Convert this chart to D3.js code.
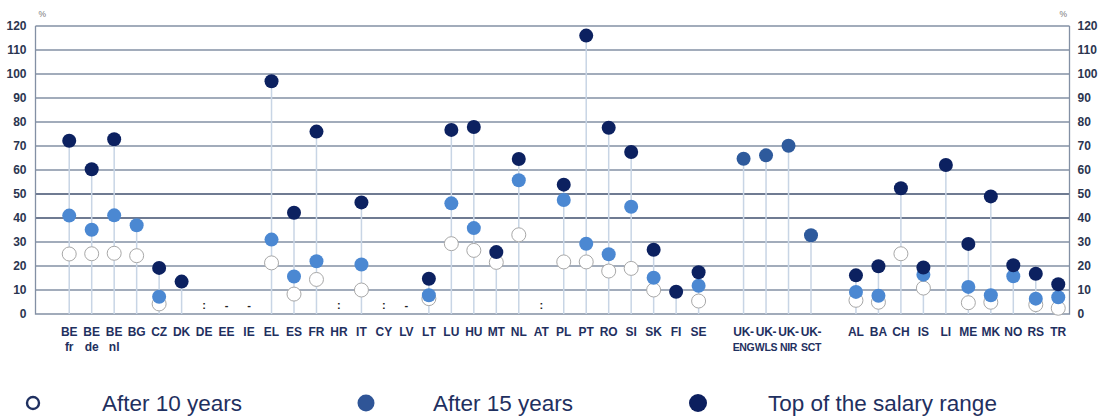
<!DOCTYPE html>
<html>
<head>
<meta charset="utf-8">
<script src="https://cdn.jsdelivr.net/npm/d3@7"></script>
<style>
  html, body { margin: 0; padding: 0; background: #ffffff; }
  svg { display: block; }
</style>
</head>
<body>
<svg id="chart" width="1100" height="416"></svg>
<script>
// ---- Data ----
// "" entries are empty slots between groups
const categories = ["", "BE fr", "BE de", "BE nl", "BG", "CZ", "DK", "DE", "EE", "IE", "EL", "ES", "FR", "HR", "IT",
  "CY", "LV", "LT", "LU", "HU", "MT", "NL", "AT", "PL", "PT", "RO", "SI", "SK", "FI", "SE", "",
  "UK- ENG", "UK- WLS", "UK- NIR", "UK- SCT", "",
  "AL", "BA", "CH", "IS", "LI", "ME", "MK", "NO", "RS", "TR"];

const after10 = [null, 25, 25.1, 25.3, 24.3, 4.2, null, null, null, null, 21.3, 8.3, 14.4, null, 10,
  null, null, 6.4, 29.3, 26.5, 21.5, 33, null, 21.7, 21.7, 17.9, 19, 10, null, 5.4, null,
  null, null, null, null, null,
  5.7, 4.9, 25.1, 10.8, null, 4.7, 4.9, null, 3.9, 2.4];

const after15 = [null, 41, 35.1, 41.1, 37, 7.2, null, null, null, null, 31, 15.6, 22, null, 20.6,
  null, null, 7.8, 46.1, 35.8, null, 55.7, null, 47.5, 29.3, 24.9, 44.7, 15.1, null, 11.8, null,
  null, null, null, null, null,
  9.2, 7.6, null, 16.4, null, 11.3, 7.8, 15.7, 6.4, 7];

const topRange = [null, 72.2, 60.3, 72.8, null, 19.2, 13.5, null, null, null, 97, 42.2, 76, null, 46.5,
  null, null, 14.7, 76.7, 77.9, 25.8, 64.6, null, 53.9, 116, 77.6, 67.5, 26.8, 9.3, 17.4, null,
  null, null, null, null, null,
  16.1, 19.9, 52.4, 19.4, 62.1, 29.2, 49, 20.3, 16.8, 12.4];

// single (uniform) value shown for the UK systems
const singleValue = [null, null, null, null, null, null, null, null, null, null, null, null, null, null, null,
  null, null, null, null, null, null, null, null, null, null, null, null, null, null, null, null,
  64.7, 66.1, 70.1, 32.8, null,
  null, null, null, null, null, null, null, null, null, null];

// ":" = not available, "-" = not applicable
const notes = [null, null, null, null, null, null, null, ":", "-", "-", null, null, null, ":", null,
  ":", "-", null, null, null, null, null, ":", null, null, null, null, null, null, null, null,
  null, null, null, null, null,
  null, null, null, null, null, null, null, null, null, null];

const yTicks = [0, 10, 20, 30, 40, 50, 60, 70, 80, 90, 100, 110, 120];
const legendItems = ["After 10 years", "After 15 years", "Top of the salary range"];

// ---- Layout ----
const svg = d3.select("#chart");
const margin = { left: 35.5, right: 30.5, top: 26, bottom: 102 };
const W = 1100, H = 416;
const plotL = margin.left, plotR = W - margin.right;
const plotT = margin.top, plotB = H - margin.bottom;

const x = d3.scaleBand().domain(d3.range(categories.length)).range([plotL, plotR]).padding(0);
const y = d3.scaleLinear().domain([0, 120]).range([plotB, plotT]);
const cx = i => x(i) + x.bandwidth() / 2;

const C = {
  grid: "#8390a4",
  gridDark: "#3f4f6e",
  stem: "#c8d5e5",
  top: "#0c2160",
  y15: "#4b88d2",
  single: "#2e5a9c",
  hollow: "#a8a8a8",
  text: "#1f3060",
  tick: "#2b3550"
};

// gridlines
const gridG = svg.append("g");
gridG.selectAll("line").data(yTicks.filter(d => d > 0)).enter().append("line")
  .attr("x1", plotL).attr("x2", plotR)
  .attr("y1", d => y(d)).attr("y2", d => y(d))
  .attr("stroke", d => (d === 40 || d === 50) ? C.gridDark : C.grid)
  .attr("stroke-width", 1.3);

// frame (left, right, bottom)
svg.append("path")
  .attr("d", `M${plotL},${plotT}V${plotB}H${plotR}V${plotT}`)
  .attr("fill", "none").attr("stroke", C.grid).attr("stroke-width", 1.3);

// axes labels (using d3 axes, domain hidden)
const axisFont = "'Liberation Sans Narrow', 'Arial Narrow', 'Liberation Sans', Arial, sans-serif";
const leftAxis = svg.append("g").attr("transform", `translate(${plotL},0)`)
  .call(d3.axisLeft(y).tickValues(yTicks).tickSize(0).tickPadding(9));
const rightAxis = svg.append("g").attr("transform", `translate(${plotR},0)`)
  .call(d3.axisRight(y).tickValues(yTicks).tickSize(0).tickPadding(8));
[leftAxis, rightAxis].forEach(g => {
  g.select(".domain").remove();
  g.selectAll("text").attr("font-family", axisFont).attr("font-weight", "bold")
    .attr("font-size", 12).attr("fill", C.tick);
});

// % units
svg.append("text").attr("x", plotL + 3).attr("y", 17).text("%")
  .attr("font-family", "Liberation Sans, Arial").attr("font-size", 8.5).attr("fill", "#777");
svg.append("text").attr("x", plotR - 10).attr("y", 17).text("%")
  .attr("font-family", "Liberation Sans, Arial").attr("font-size", 8.5).attr("fill", "#777");

// category labels
const xAxis = svg.append("g").attr("transform", `translate(0,${plotB})`)
  .call(d3.axisBottom(x).tickSize(0).tickFormat(""));
xAxis.select(".domain").remove();
const labG = svg.append("g");
categories.forEach((c, i) => {
  if (!c) return;
  const parts = c.split(" ");
  const isUK = c.startsWith("UK");
  const t = labG.append("text").attr("x", cx(i)).attr("y", plotB + 22)
    .attr("text-anchor", "middle").attr("font-family", axisFont)
    .attr("font-weight", "bold").attr("font-size", 12).attr("fill", C.text);
  parts.forEach((p, k) => {
    const ts = t.append("tspan").attr("x", cx(i)).attr("dy", k === 0 ? 0 : 15).text(p);
    if (isUK) ts.attr("letter-spacing", -0.3);
    if (isUK && k > 0) ts.attr("font-size", 10.5);
  });
});

// stems
const maxVals = categories.map((c, i) => {
  const vs = [after10[i], after15[i], topRange[i], singleValue[i]].filter(v => v != null);
  return vs.length ? d3.max(vs) : null;
});
svg.append("g").selectAll("line")
  .data(d3.range(categories.length).filter(i => maxVals[i] != null)).enter().append("line")
  .attr("x1", cx).attr("x2", cx)
  .attr("y1", y(0)).attr("y2", i => y(maxVals[i]))
  .attr("stroke", C.stem).attr("stroke-width", 1.5);

// notes
svg.append("g").selectAll("text")
  .data(d3.range(categories.length).filter(i => notes[i] != null)).enter().append("text")
  .attr("x", cx).attr("y", y(3.5))
  .attr("text-anchor", "middle").attr("dominant-baseline", "middle")
  .attr("font-family", axisFont).attr("font-weight", "bold").attr("font-size", 11)
  .attr("fill", "#222").text(i => notes[i]);

// points
const R = 7;
function drawSeries(vals, fill, stroke, sw) {
  svg.append("g").selectAll("circle")
    .data(d3.range(categories.length).filter(i => vals[i] != null)).enter().append("circle")
    .attr("cx", cx).attr("cy", i => y(vals[i])).attr("r", R)
    .attr("fill", fill).attr("stroke", stroke).attr("stroke-width", sw);
}
drawSeries(after10, "#ffffff", C.hollow, 1);
drawSeries(after15, C.y15, "none", 0);
drawSeries(singleValue, C.single, "none", 0);
drawSeries(topRange, C.top, "none", 0);

// legend
const legY = 403;
const legend = svg.append("g");
const legX = [33, 366, 698];
const textX = [102, 433, 768];
legend.append("circle").attr("cx", legX[0]).attr("cy", legY).attr("r", 6)
  .attr("fill", "#fff").attr("stroke", C.text).attr("stroke-width", 2.4);
legend.append("circle").attr("cx", legX[1]).attr("cy", legY).attr("r", 8.5).attr("fill", "#2f5597");
legend.append("circle").attr("cx", legX[2]).attr("cy", legY).attr("r", 9).attr("fill", "#0c1f5e");
legendItems.forEach((t, k) => {
  legend.append("text").attr("x", textX[k]).attr("y", legY + 8).text(t)
    .attr("font-family", "'Liberation Sans', Arial, sans-serif").attr("font-size", 22.5)
    .attr("fill", C.text);
});
</script>
</body>
</html>
